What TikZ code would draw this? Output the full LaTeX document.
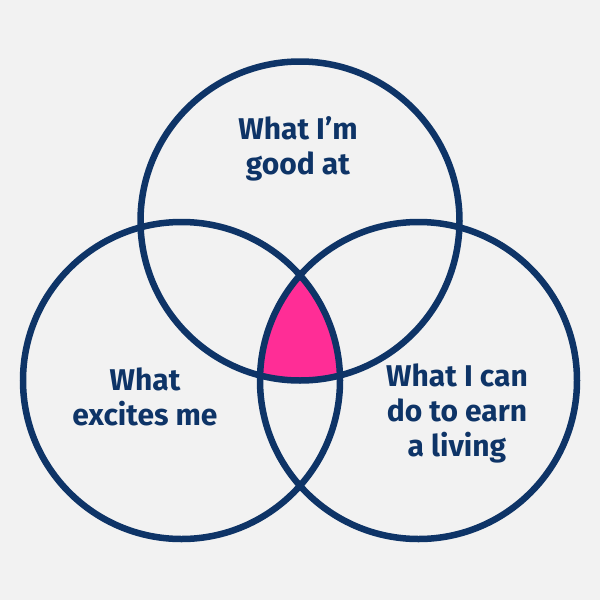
\documentclass[tikz,border=0pt]{standalone}
\usepackage{fontspec}
\setmainfont{Fira Sans}
\definecolor{navy}{RGB}{14,52,103}
\definecolor{hotpink}{RGB}{255,45,150}
\definecolor{bg}{RGB}{242,242,242}
\begin{document}
\begin{tikzpicture}[x=1pt,y=-1pt,
  ring/.style={draw=navy,line width=6.5pt},
  lbl/.style={text=navy,font=\fontsize{30}{35}\selectfont\bfseries,align=center,inner sep=0pt}]
\fill[bg] (0,0) rectangle (600,600);
\useasboundingbox (0,0) rectangle (600,600);
\coordinate (ct) at (300,221);
\coordinate (cl) at (181.5,380.5);
\coordinate (cr) at (418.5,380.5);
\begin{scope}
  \clip (ct) circle (159.5);
  \clip (cl) circle (158.5);
  \fill[hotpink] (cr) circle (158.5);
\end{scope}
\draw[ring] (ct) circle (159.5);
\draw[ring] (cl) circle (158.5);
\draw[ring] (cr) circle (158.5);
\node[lbl] (good) at (298,149) {What I’m\\good at};
\node[lbl] (excite) at (145,397) {What\\excites me};
\node[lbl] (earn) at (457,413) {What I can\\do to earn\\a living};
\end{tikzpicture}
\end{document}
